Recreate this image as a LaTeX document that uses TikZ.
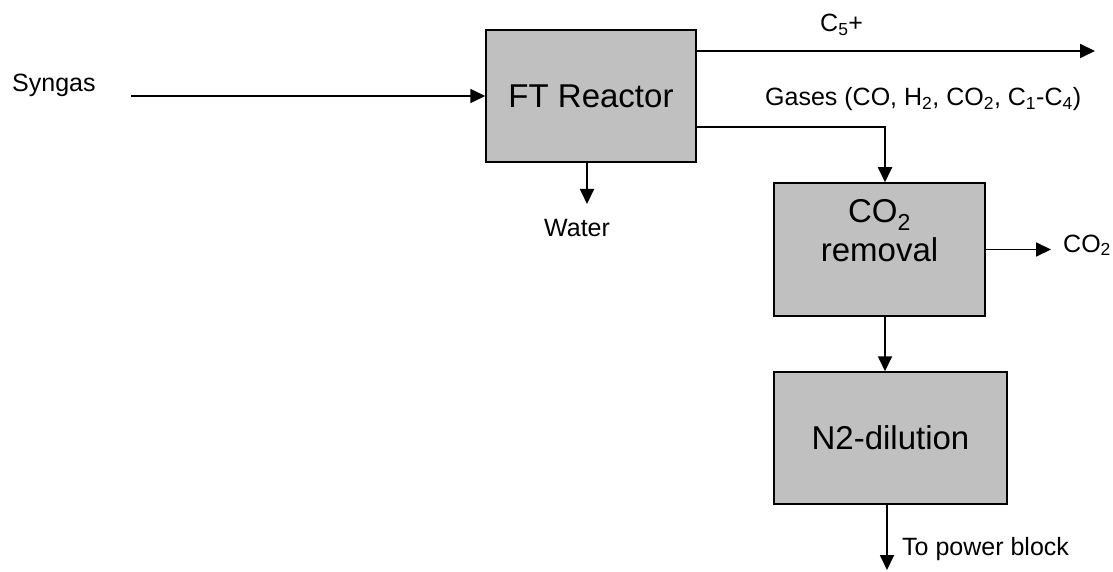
\documentclass[tikz,border=0pt]{standalone}
\usepackage{fontspec}
\setmainfont{Liberation Sans}
\usetikzlibrary{positioning,arrows.meta,calc}
\definecolor{unit}{HTML}{C0C0C0}
\definecolor{stream}{HTML}{000000}

\begin{document}
\begin{tikzpicture}[x=1pt, y=-1pt,
        unitbox/.style={rectangle, draw=stream, fill=unit, line
        width=1.5pt, inner sep=0pt, align=center,
        font=\fontsize{33}{36}\selectfont},
        unittext/.style={inner sep=0pt, align=center,
        font=\fontsize{33}{39}\selectfont},
        flowline/.style={-{Triangle[length=15pt,width=14pt]}, stream,
        line width=1.8pt},
        streamlabel/.style={anchor=base west, inner sep=0pt,
        font=\fontsize{25}{30}\selectfont},
      ]
      \useasboundingbox (0,0) rectangle (1113,572);

      % Process units
      \node[unitbox, minimum width=210pt, minimum height=132pt] (ft)
      at (591, 96) {FT Reactor};
      \node[unitbox, minimum width=211pt, minimum height=133pt] (co2)
      at (879.5, 249.5) {};
      \node[unittext, anchor=north, below=17pt of co2.north] (co2txt)
      {CO\textsubscript{2}\\removal};
      \node[unitbox, minimum width=233pt, minimum height=132pt] (n2)
      at (890.5, 438) {N2-dilution};

      % Free ends of the streams
      \coordinate (syngasin) at (131, 96);
      \coordinate (c5out) at (1095, 51);
      \coordinate (gasturn) at (885, 127);
      \coordinate (waterout) at (587, 204);
      \coordinate (co2out) at (1051, 249.5);
      \coordinate (powerout) at (887, 570);

      % Streams
      \draw[flowline] (syngasin) -- (ft.west);
      \draw[flowline] (ft.east |- c5out) -- (c5out);
      \draw[flowline] (ft.east |- gasturn) -- (gasturn) -- (gasturn |-
      co2.north);
      \draw[flowline] (waterout |- ft.south) -- (waterout);
      \draw[flowline] (co2.east) -- (co2out);
      \draw[flowline] (gasturn |- co2.south) -- (gasturn |- n2.north);
      \draw[flowline] (powerout |- n2.south) -- (powerout);

      % Stream labels
      \node[streamlabel] (syngas) at (12, 92) {Syngas};
      \node[streamlabel] (c5) at (820, 32) {C\textsubscript{5}+};
      \node[streamlabel] (gases) at (765, 106) {Gases (CO,
      H\textsubscript{2}, CO\textsubscript{2},
      C\textsubscript{1}-C\textsubscript{4})};
      \node[streamlabel] (water) at (544, 236) {Water};
      \node[streamlabel] (co2lbl) at (1063, 252) {CO\textsubscript{2}};
      \node[streamlabel] (power) at (902, 555) {To power block};
    \end{tikzpicture}
\end{document}
